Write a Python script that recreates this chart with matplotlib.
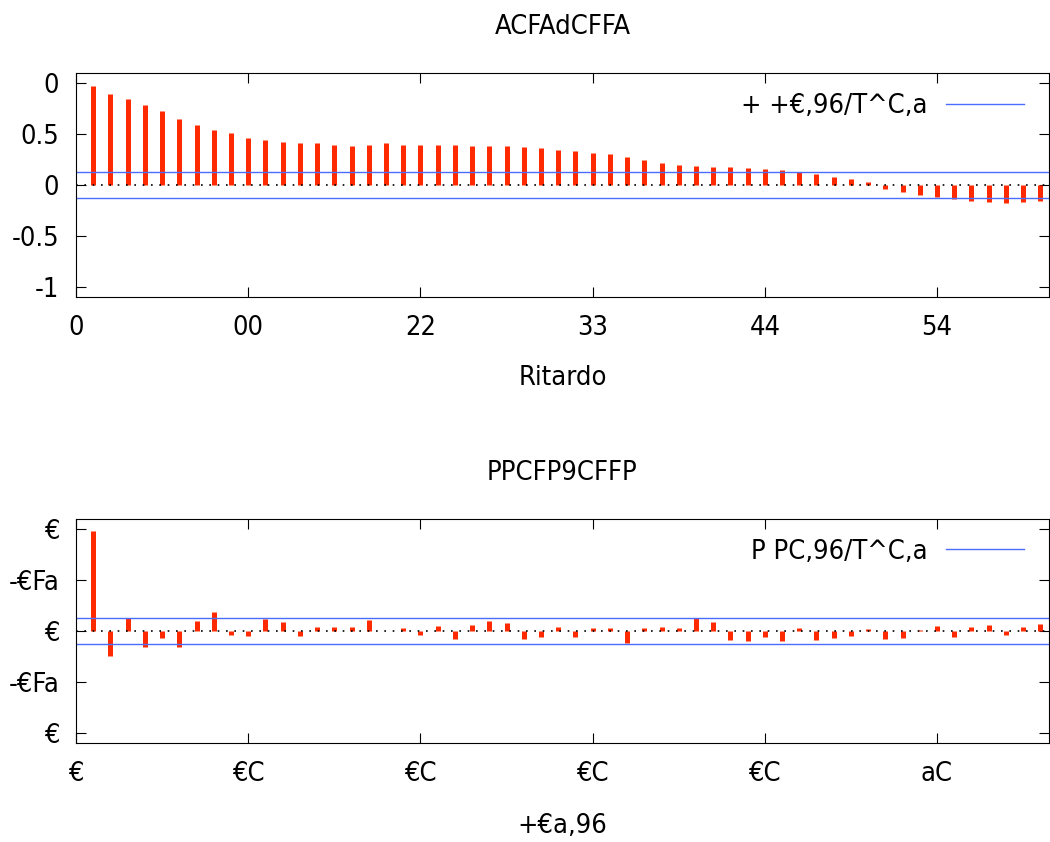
import matplotlib
matplotlib.use("Agg")
import matplotlib.pyplot as plt
import numpy as np

plt.rcParams['font.family'] = ['DejaVu Sans']
plt.rcParams['font.stretch'] = 'condensed'
plt.rcParams['font.size'] = 19.5

lags = np.arange(1, 57)

acf = [0.97, 0.90, 0.85, 0.79, 0.725, 0.65, 0.59, 0.54, 0.51, 0.46,
       0.44, 0.42, 0.415, 0.41, 0.40, 0.39, 0.40, 0.41, 0.40, 0.40,
       0.40, 0.40, 0.39, 0.39, 0.39, 0.38, 0.365, 0.345, 0.335, 0.32,
       0.305, 0.276, 0.247, 0.22, 0.20, 0.19, 0.18, 0.175, 0.17, 0.156,
       0.146, 0.13, 0.114, 0.085, 0.06, 0.03, -0.04, -0.07, -0.10, -0.12,
       -0.135, -0.15, -0.165, -0.17, -0.165, -0.155]

pacf = [0.98, -0.25, 0.125, -0.155, -0.066, -0.16, 0.097, 0.185, -0.04, -0.046,
        0.116, 0.086, -0.053, 0.037, 0.043, 0.04, 0.11, 0.0, 0.03, -0.04,
        0.05, -0.08, 0.06, 0.10, 0.08, -0.08, -0.06, 0.04, -0.06, 0.03,
        0.03, -0.12, 0.03, 0.04, 0.03, 0.13, 0.09, -0.09, -0.10, -0.06,
        -0.10, 0.03, -0.09, -0.07, -0.05, 0.02, -0.08, -0.07, 0.01, 0.05,
        -0.06, 0.04, 0.06, -0.04, 0.04, 0.07]

band = 0.13

xticks = [0, 10, 20, 30, 40, 50]
yticks = [1, 0.5, 0, -0.5, -1]

top_title = "ACFAdCFFA"
top_xticklabels = ["0", "00", "22", "33", "44", "54"]
top_yticklabels = ["0", "0.5", "0", "-0.5", "-1"]
top_xlabel = "Ritardo"
top_legend = "+ +€,96/T^C,a"

bot_title = "PPCFP9CFFP"
bot_xticklabels = ["€", "€C", "€C", "€C", "€C", "aC"]
bot_yticklabels = ["€", "-€Fa", "€", "-€Fa", "€"]
bot_xlabel = "+€a,96"
bot_legend = "P PC,96/T^C,a"

red = "#ff2a00"
blue = "#4a6cff"

fig = plt.figure(figsize=(10.5, 8.42), dpi=100)


def panel(ax, vals, title, xtl, ytl, xlabel, leg, xlpad):
    ax.vlines(lags, 0, vals, color=red, lw=3.6)
    ax.axhline(0, color="black", lw=1.2, ls=(0, (1, 4)))
    line, = ax.plot([0, 56.5], [band, band], color=blue, lw=1, label=leg)
    ax.plot([0, 56.5], [-band, -band], color=blue, lw=1)
    ax.set_xlim(0, 56.5)
    ax.set_ylim(-1.1, 1.1)
    ax.set_xticks(xticks)
    ax.set_xticklabels(xtl)
    ax.set_yticks(yticks)
    ax.set_yticklabels(ytl)
    ax.tick_params(direction="in", top=True, right=True, length=7)
    ax.tick_params(axis="x", pad=13)
    ax.tick_params(axis="y", pad=12)
    ax.set_title(title, pad=28, fontsize=19.5)
    ax.set_xlabel(xlabel, labelpad=xlpad)
    ax.legend(handles=[line], loc="upper right", frameon=False,
              markerfirst=False, handlelength=2.9, handletextpad=0.65,
              borderaxespad=0, bbox_to_anchor=(0.9856, 0.96))


ax1 = fig.add_axes([0.0724, 0.647, 0.9266, 0.266])
panel(ax1, acf, top_title, top_xticklabels, top_yticklabels, top_xlabel, top_legend, 17)

ax2 = fig.add_axes([0.0724, 0.1176, 0.9266, 0.266])
panel(ax2, pacf, bot_title, bot_xticklabels, bot_yticklabels, bot_xlabel, bot_legend, 19)

fig.savefig("out.png", dpi=100)
